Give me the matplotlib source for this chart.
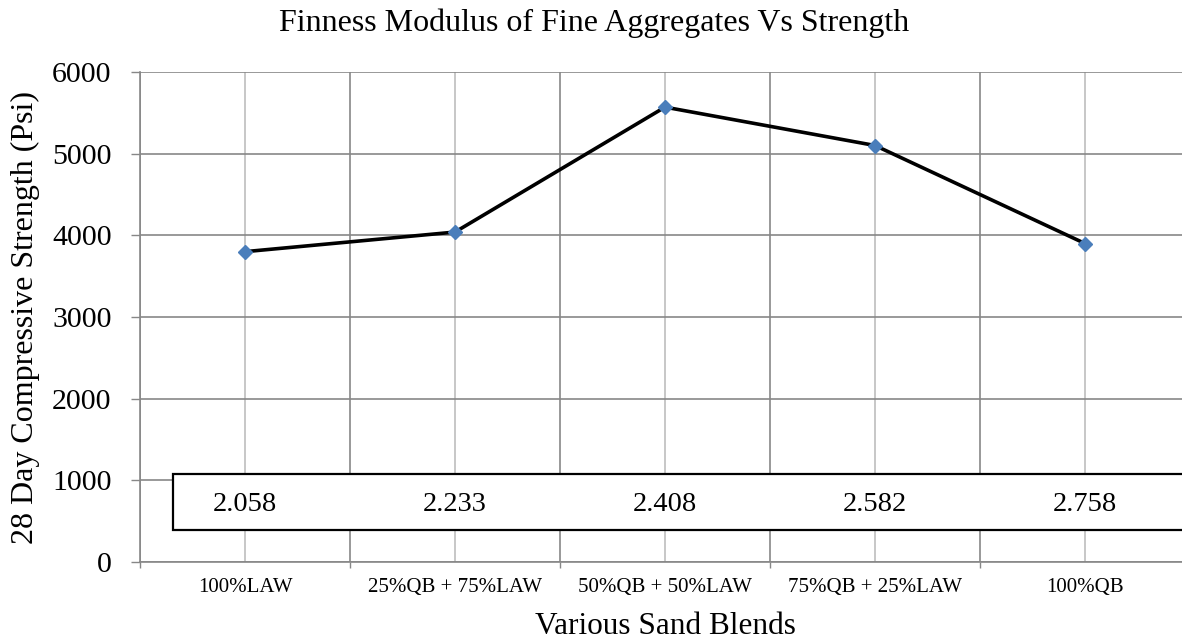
import matplotlib.pyplot as plt
from matplotlib.patches import Rectangle
from matplotlib.ticker import FixedLocator, MultipleLocator
import matplotlib.transforms as mtransforms

plt.rcParams['font.family'] = ['Liberation Serif', 'DejaVu Serif']

blends = ['100%LAW', '25%QB + 75%LAW', '50%QB + 50%LAW', '75%QB + 25%LAW', '100%QB']
strength = [3800, 4040, 5570, 5100, 3900]
fineness = ['2.058', '2.233', '2.408', '2.582', '2.758']

grid_dark = '#878787'
grid_light = '#bebebe'

W, H = 1182, 639
fig = plt.figure(figsize=(W / 100, H / 100), dpi=100)
ax = fig.add_axes([140 / W, 77 / H, 1050 / W, 490 / H])

x = list(range(len(blends)))
ax.plot(x, strength, color='black', lw=2.6, marker='D', ms=7.5,
        mfc='#4a7ebb', mec='#4a7ebb', zorder=4)

ax.set_xlim(-0.5, len(blends) - 0.5)
ax.set_ylim(0, 6000)
ax.yaxis.set_major_locator(MultipleLocator(1000))

# category boundaries carry the tick marks, centres carry the labels
ax.xaxis.set_major_locator(FixedLocator([i - 0.5 for i in range(len(blends) + 1)]))
ax.xaxis.set_minor_locator(FixedLocator(x))
ax.set_xticklabels([], minor=False)
ax.set_xticklabels(blends, minor=True)
ax.tick_params(axis='x', which='major', length=4.5, width=1, color=grid_dark, direction='out')
ax.tick_params(axis='x', which='minor', length=0, labelsize=15, pad=11.5)
ax.tick_params(axis='y', length=6.5, width=1, color=grid_dark, direction='out',
               labelsize=21.5, pad=14)

ax.grid(axis='y', color=grid_dark, lw=1.2)
ax.grid(axis='x', which='major', color=grid_dark, lw=1.2)
ax.grid(axis='x', which='minor', color=grid_light, lw=1.2)
ax.set_axisbelow(True)

for side in ['top', 'right']:
    ax.spines[side].set_visible(False)
for side in ['left', 'bottom']:
    ax.spines[side].set_color(grid_dark)
    ax.spines[side].set_linewidth(1.2)

# fineness modulus strip across the lower part of the plot
ax.add_patch(Rectangle((0.0314, 0.0653), 1.0, 0.1153, transform=ax.transAxes,
                       facecolor='white', edgecolor='black', lw=1.6, zorder=3,
                       clip_on=False))
trans = mtransforms.blended_transform_factory(ax.transData, ax.transAxes)
for xi, fm in zip(x, fineness):
    ax.text(xi, 0.1047, fm, transform=trans, ha='center', va='baseline',
            fontsize=20.5, zorder=5)

fig.text(25 / W, 0.5 + 2 / H, '28 Day Compressive Strength (Psi)', rotation=90,
         ha='center', va='center', fontsize=23)
fig.text(665 / W, 5 / H, 'Various Sand Blends', ha='center', va='baseline', fontsize=22.5)
fig.text(594 / W, 1 - 31 / H, 'Finness Modulus of Fine Aggregates Vs Strength',
         ha='center', va='baseline', fontsize=23)

fig.savefig('out.png', dpi=100)
